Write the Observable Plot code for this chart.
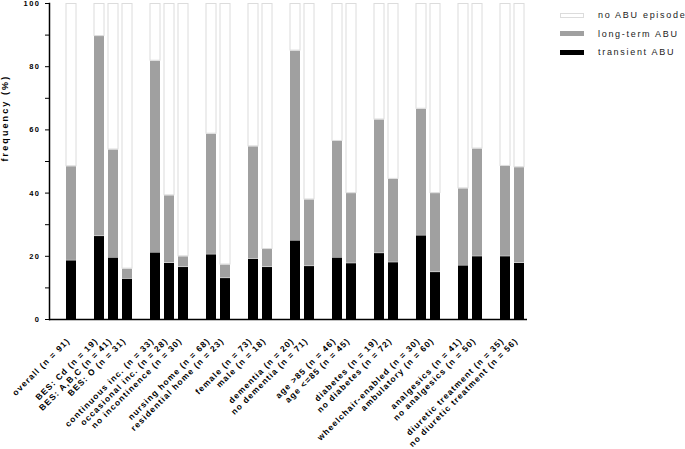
<!DOCTYPE html>
<html><head><meta charset="utf-8">
<script src="https://cdn.jsdelivr.net/npm/d3@7"></script>
<script src="https://cdn.jsdelivr.net/npm/@observablehq/plot@0.6"></script>
<style>
body{margin:0;background:#fff;}
#wrap{position:relative;width:685px;height:449px;overflow:hidden;}
#wrap svg{font-family:"Liberation Sans",Arial,sans-serif;font-weight:bold;}
.legend{position:absolute;left:560px;top:6px;font-family:"Liberation Sans",Arial,sans-serif;font-size:9px;letter-spacing:1.7px;color:#222;white-space:nowrap;}
.legend .row{display:flex;align-items:center;height:18.5px;}
.legend .sw{width:24px;height:5px;margin-right:14px;box-sizing:border-box;}
</style></head><body><div id="wrap"></div>
<script>
const categories = ["overall (n = 91)","BES: Cd (n = 19)","BES: A,B,C (n = 41)","BES: O (n = 31)","continuous inc. (n = 33)","occasional inc. (n = 28)","no incontinence (n = 30)","nursing home (n = 68)","residential home (n = 23)","female (n = 73)","male (n = 18)","dementia (n = 20)","no dementia (n = 71)","age >85 (n = 46)","age <=85 (n = 45)","diabetes (n = 19)","no diabetes (n = 72)","wheelchair-enabled (n = 30)","ambulatory (n = 60)","analgesics (n = 41)","no analgesics (n = 50)","diuretic treatment (n = 35)","no diuretic treatment (n = 56)"];
const groupOf = ["all","bes","bes","bes","inc","inc","inc","home","home","sex","sex","dem","dem","age","age","dia","dia","mob","mob","ana","ana","diu","diu"];
const transientABU = [18.7,26.4,19.6,12.9,21.2,17.9,16.6,20.6,13.1,19.2,16.6,25.0,16.9,19.6,17.8,21.0,18.1,26.6,15.0,17.1,20.0,20.0,17.9];
const longTermABU = [29.8,63.3,34.2,3.2,60.7,21.4,3.4,38.2,4.3,35.6,5.7,60.1,21.1,36.9,22.2,42.3,26.4,40.1,25.0,24.4,34.1,28.6,30.3];
const series = ["transient ABU","long-term ABU","no ABU episode"];
const seriesColors = ["#000000","#a0a0a0","#ffffff"];
const yTicks = [0,20,40,60,80,100];
const yMinorTicks = [10,30,50,70,90];
const yLabel = "frequency (%)";

// slot domain with spacer slots between groups
const slots = [];
let spacer = 0;
categories.forEach((c,i)=>{
  if (i>0 && groupOf[i]!==groupOf[i-1]) { spacer++; slots.push(" ".repeat(spacer)); }
  slots.push(c);
});

const rows = [];
categories.forEach((c,i)=>{
  const vals = [transientABU[i], longTermABU[i], 100 - transientABU[i] - longTermABU[i]];
  series.forEach((s,j)=>rows.push({category:c, series:s, value:vals[j]}));
});

const chart = Plot.plot({
  width:685, height:449,
  marginLeft:49, marginRight:158, marginTop:3, marginBottom:130,
  x:{domain:slots, range:[65.3,525.3], paddingInner:0.289, paddingOuter:0},
  y:{domain:[0,100]},
  color:{domain:series, range:seriesColors},
  style:{fontFamily:"'Liberation Sans',Arial,sans-serif", background:"#fff"},
  marks:[
    Plot.barY(rows, {x:"category", y:"value", fill:"series", order:series,
      stroke:d=>d.series===series[2]?"#dcdcdc":"none", strokeWidth:1, insetTop:0.5, insetBottom:0}),
    Plot.ruleY([0], {stroke:"#000", strokeWidth:1.3}),
    Plot.frame({anchor:"left", stroke:"#000", strokeWidth:1.5}),
    Plot.axisY({ticks:yTicks, tickSize:4, tickPadding:5, label:null, fontSize:7.5, fontWeight:"bold", tickFormat:d=>String(d)}),
    Plot.axisY({ticks:yMinorTicks, tickSize:4, label:null, tickFormat:()=>""}),
    Plot.axisX({ticks:categories, tickRotate:-45, tickSize:0, tickPadding:20, dx:-3, label:null, fontSize:8.5, fontWeight:"bold"}),
    Plot.text([yLabel], {frameAnchor:"left", rotate:-90, dx:-44, fontSize:9, fontWeight:"bold", text:d=>d})
  ]
});
d3.select(chart).selectAll("text").style("letter-spacing","1.1px");
d3.select(chart).selectAll("g[aria-label='y-axis tick label'] text").style("letter-spacing","1.5px");
d3.select(chart).selectAll("g[aria-label='text'] text").style("letter-spacing","2.1px");
document.getElementById("wrap").appendChild(chart);

// legend (top-down order as in reference)
const lg = document.createElement("div");
lg.className = "legend";
[2,1,0].forEach(j=>{
  const r = document.createElement("div"); r.className="row";
  const sw = document.createElement("div"); sw.className="sw";
  sw.style.background = seriesColors[j];
  if (j===2) sw.style.border = "1px solid #dcdcdc";
  const t = document.createElement("span"); t.textContent = series[j];
  r.appendChild(sw); r.appendChild(t); lg.appendChild(r);
});
document.getElementById("wrap").appendChild(lg);
</script></body></html>
